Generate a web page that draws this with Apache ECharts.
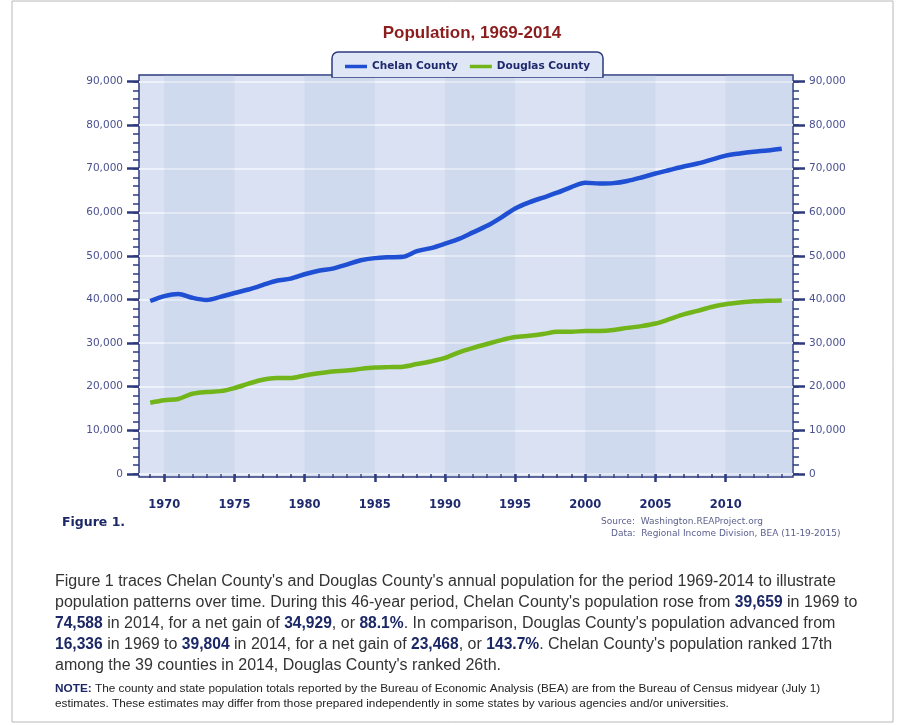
<!DOCTYPE html>
<html>
<head>
<meta charset="utf-8">
<title>Population, 1969-2014</title>
<script src="https://cdn.jsdelivr.net/npm/echarts@6/dist/echarts.min.js"></script>
<style>
  html, body { margin: 0; padding: 0; background: #fff; }
  #chart { width: 904px; height: 725px; }
</style>
</head>
<body>
<div id="chart"></div>
<script>
const years = [1969, 1970, 1971, 1972, 1973, 1974, 1975, 1976, 1977, 1978, 1979,
  1980, 1981, 1982, 1983, 1984, 1985, 1986, 1987, 1988, 1989,
  1990, 1991, 1992, 1993, 1994, 1995, 1996, 1997, 1998, 1999,
  2000, 2001, 2002, 2003, 2004, 2005, 2006, 2007, 2008, 2009,
  2010, 2011, 2012, 2013, 2014];

const chelan = [39659, 40800, 41300, 40400, 39900, 40600, 41500, 42300, 43300, 44300, 44800,
  45800, 46600, 47100, 48000, 49000, 49500, 49700, 49800, 51100, 51800,
  52800, 53900, 55400, 56900, 58800, 60900, 62300, 63400, 64500, 65800,
  66800, 66600, 66700, 67200, 68000, 68900, 69700, 70500, 71200, 72100,
  73000, 73500, 73900, 74200, 74588];

const douglas = [16336, 16900, 17200, 18400, 18800, 19000, 19700, 20700, 21600, 22000, 22000,
  22600, 23100, 23500, 23700, 24100, 24400, 24500, 24600, 25200, 25800,
  26600, 27900, 28900, 29800, 30700, 31400, 31700, 32100, 32600, 32600,
  32800, 32800, 33000, 33500, 33900, 34500, 35500, 36600, 37400, 38300,
  38900, 39300, 39600, 39700, 39804];

const majorYears = [1970, 1975, 1980, 1985, 1990, 1995, 2000, 2005, 2010];
const yTicks = [0, 10000, 20000, 30000, 40000, 50000, 60000, 70000, 80000, 90000];
const yMinorTicks = [];
for (let v = 0; v <= 90000; v += 2000) yMinorTicks.push(v);
const darkBands = [[1970, 1975], [1980, 1985], [1990, 1995], [2000, 2005], [2010, 2014.8]];

const paragraph = [
  [['t', "Figure 1 traces Chelan County's and Douglas County's annual population for the period 1969-2014 to illustrate"]],
  [['t', "population patterns over time. During this 46-year period, Chelan County's population rose from "], ['b', '39,659'], ['t', ' in 1969 to']],
  [['b', '74,588'], ['t', ' in 2014, for a net gain of '], ['b', '34,929'], ['t', ', or '], ['b', '88.1%'], ['t', ". In comparison, Douglas County's population advanced from"]],
  [['b', '16,336'], ['t', ' in 1969 to '], ['b', '39,804'], ['t', ' in 2014, for a net gain of '], ['b', '23,468'], ['t', ', or '], ['b', '143.7%'], ['t', ". Chelan County's population ranked 17th"]],
  [['t', "among the 39 counties in 2014, Douglas County's ranked 26th."]]
];
const noteLines = [
  [['b', 'NOTE:'], ['t', ' The county and state population totals reported by the Bureau of Economic Analysis (BEA) are from the Bureau of Census midyear (July 1)']],
  [['t', 'estimates. These estimates may differ from those prepared independently in some states by various agencies and/or universities.']]
];

const navy = '#1f2a6e';
const axisNavy = '#2e3a7c';
const labelGrey = '#4b5190';
const plotBg = '#d9e1f2';

function richLine(parts) {
  return parts.map(p => '{' + p[0] + '|' + p[1] + '}').join('');
}

const chart = echarts.init(document.getElementById('chart'));

const paraGraphics = paragraph.map((line, i) => ({
  type: 'text',
  left: 55,
  top: 574 + i * 21,
  style: {
    text: richLine(line),
    rich: {
      t: { fontFamily: 'Liberation Sans', fontSize: 16, fill: '#333' },
      b: { fontFamily: 'Liberation Sans', fontSize: 15.6, fontWeight: 'bold', fill: '#1c2766' }
    }
  }
}));

const noteGraphics = noteLines.map((line, i) => ({
  type: 'text',
  left: 55,
  top: 683 + i * 15,
  style: {
    text: richLine(line),
    rich: {
      t: { fontFamily: 'Liberation Sans', fontSize: 11.8, fill: '#222' },
      b: { fontFamily: 'Liberation Sans', fontSize: 11.8, fontWeight: 'bold', fill: '#1c2766' }
    }
  }
}));

const option = {
  backgroundColor: '#fff',
  animation: false,
  title: {
    text: 'Population, 1969-2014',
    left: 467,
    textAlign: 'center',
    top: 20,
    textStyle: { fontFamily: 'Liberation Sans', fontSize: 17, fontWeight: 'bold', color: '#8b1d1d' }
  },
  legend: {
    left: 340,
    top: 56,
    z: 20,
    icon: 'rect',
    itemWidth: 22,
    itemHeight: 3.5,
    itemGap: 12,
    textStyle: { fontFamily: 'DejaVu Sans', fontSize: 10.5, fontWeight: 'bold', color: navy },
    data: ['Chelan County', 'Douglas County']
  },
  grid: {
    left: 139, right: 111, top: 75, bottom: 248,
    show: true,
    backgroundColor: plotBg,
    borderColor: axisNavy,
    borderWidth: 1.5
  },
  xAxis: [
    {
      type: 'value', min: 1968.2, max: 2014.8, position: 'bottom', offset: 6,
      axisLine: { show: false },
      axisTick: { customValues: years, length: 4, lineStyle: { color: axisNavy, width: 1.5 } },
      axisLabel: { show: false },
      splitLine: { show: false }
    },
    {
      type: 'value', min: 1968.2, max: 2014.8, position: 'bottom', offset: 6,
      axisLine: { show: false },
      axisTick: { customValues: majorYears, length: 8, lineStyle: { color: axisNavy, width: 2.5 } },
      axisLabel: {
        customValues: majorYears, margin: 16,
        formatter: v => String(v),
        fontFamily: 'DejaVu Sans', fontSize: 11.5, fontWeight: 'bold', color: navy
      },
      splitLine: { show: false }
    }
  ],
  yAxis: [
    {
      type: 'value', min: -700, max: 91500, position: 'left',
      axisLine: { show: false },
      axisTick: { customValues: yTicks, length: 12, lineStyle: { color: axisNavy, width: 2.5 } },
      axisLabel: {
        customValues: yTicks, margin: 16,
        formatter: v => v.toLocaleString('en-US'),
        fontFamily: 'DejaVu Sans', fontSize: 10.5, color: labelGrey
      },
      splitLine: { show: true, lineStyle: { color: '#eef2fb', width: 2 } }
    },
    {
      type: 'value', min: -700, max: 91500, position: 'left',
      axisLine: { show: false },
      axisTick: { customValues: yMinorTicks, length: 6, lineStyle: { color: axisNavy, width: 1.5 } },
      axisLabel: { show: false },
      splitLine: { show: false }
    },
    {
      type: 'value', min: -700, max: 91500, position: 'right',
      axisLine: { show: false },
      axisTick: { customValues: yTicks, length: 12, lineStyle: { color: axisNavy, width: 2.5 } },
      axisLabel: {
        customValues: yTicks, margin: 16,
        formatter: v => v.toLocaleString('en-US'),
        fontFamily: 'DejaVu Sans', fontSize: 10.5, color: labelGrey
      },
      splitLine: { show: false }
    },
    {
      type: 'value', min: -700, max: 91500, position: 'right',
      axisLine: { show: false },
      axisTick: { customValues: yMinorTicks, length: 6, lineStyle: { color: axisNavy, width: 1.5 } },
      axisLabel: { show: false },
      splitLine: { show: false }
    }
  ],
  series: [
    {
      name: 'bands',
      type: 'line',
      data: [],
      z: 1,
      silent: true,
      markArea: {
        silent: true,
        itemStyle: { color: 'rgba(160,178,216,0.15)' },
        data: darkBands.map(b => [{ xAxis: b[0] }, { xAxis: b[1] }])
      }
    },
    {
      name: 'Chelan County',
      type: 'line',
      z: 3,
      smooth: 0.3,
      showSymbol: false,
      color: '#1f4fd2',
      lineStyle: { width: 4.5, color: '#1f4fd2' },
      data: years.map((y, i) => [y, chelan[i]])
    },
    {
      name: 'Douglas County',
      type: 'line',
      z: 3,
      smooth: 0.3,
      showSymbol: false,
      color: '#72b51a',
      lineStyle: { width: 4.5, color: '#72b51a' },
      data: years.map((y, i) => [y, douglas[i]])
    }
  ],
  graphic: [
    {
      type: 'rect', z: 0, silent: true,
      shape: { x: 12, y: 1, width: 881, height: 721 },
      style: { fill: 'none', stroke: '#b8b8b8', lineWidth: 1 }
    },
    {
      type: 'rect', z: 10, silent: true,
      shape: { x: 332, y: 52, width: 271, height: 25, r: [6, 6, 0, 0] },
      style: { fill: '#dfe6f5', stroke: axisNavy, lineWidth: 1.5 }
    },
    {
      type: 'rect', z: 11, silent: true,
      shape: { x: 333, y: 73, width: 269, height: 4 },
      style: { fill: '#dfe6f5' }
    },
    {
      type: 'text', left: 62, top: 516,
      style: { text: 'Figure 1.', fontFamily: 'DejaVu Sans', fontSize: 12.5, fontWeight: 'bold', fill: '#1c2766' }
    },
    {
      type: 'text', left: 601, top: 517,
      style: { text: 'Source:  Washington.REAProject.org', fontFamily: 'DejaVu Sans', fontSize: 9, fill: '#5a5f8e' }
    },
    {
      type: 'text', left: 611, top: 529,
      style: { text: 'Data:  Regional Income Division, BEA (11-19-2015)', fontFamily: 'DejaVu Sans', fontSize: 9, fill: '#5a5f8e' }
    }
  ].concat(paraGraphics, noteGraphics)
};

chart.setOption(option);
</script>
</body>
</html>
